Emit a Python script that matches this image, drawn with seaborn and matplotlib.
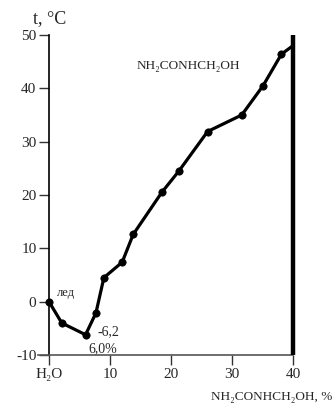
import matplotlib
matplotlib.use("Agg")
import matplotlib.pyplot as plt
import seaborn as sns
import pandas as pd

# Freezing / solubility curve of the H2O – NH2CONHCH2OH system
composition = [0, 2.1, 6.0, 7.7, 9.0, 12.0, 13.8, 18.5, 21.3, 26.0, 31.6, 35.1, 38.1]
temperature = [0, -4.0, -6.2, -2.1, 4.5, 7.4, 12.6, 20.5, 24.5, 31.9, 35.0, 40.5, 46.4]
# the liquidus runs on to the pure-component line
curve_end = (40, 48)

x_ticks = [0, 10, 20, 30, 40]
x_tick_labels = ["H\u2082O", "10", "20", "30", "40"]
y_ticks = [50, 40, 30, 20, 10, 0, -10]

sns.set_theme(style="white")
serif = ["Liberation Serif", "DejaVu Serif"]
plt.rcParams["font.family"] = serif
plt.rcParams["axes.unicode_minus"] = False

points = pd.DataFrame({"c": composition, "t": temperature})
curve = pd.DataFrame({"c": composition + [curve_end[0]],
                      "t": temperature + [curve_end[1]]})

fig = plt.figure(figsize=(3.33, 4.03), dpi=100)
ax = fig.add_axes([0.1141, 0.1191, 0.7658, 0.7941])

sns.lineplot(data=curve, x="c", y="t", sort=False, color="black",
             linewidth=2.3, ax=ax, clip_on=False)
sns.scatterplot(data=points, x="c", y="t", color="black", s=28,
                edgecolor="black", linewidth=0.5, ax=ax, zorder=3, clip_on=False)

# pure NH2CONHCH2OH side
ax.plot([40, 40], [-10, 50], color="black", linewidth=3.2, clip_on=False,
        solid_capstyle="butt", zorder=4)

ax.set_xlim(-1.8, 40)
ax.set_ylim(-10, 50)

for side in ("top", "right"):
    ax.spines[side].set_visible(False)
ax.spines["left"].set_position(("data", 0))
ax.spines["left"].set_color("black")
ax.spines["left"].set_linewidth(1.2)
ax.spines["bottom"].set_color("#555555")
ax.spines["bottom"].set_linewidth(1.2)

ax.set_xticks(x_ticks)
ax.set_xticklabels(x_tick_labels)
ax.set_yticks(y_ticks)
ax.set_yticklabels([str(v) for v in y_ticks])
ax.tick_params(axis="both", which="major", direction="out", length=7,
               width=1.0, color="#333333", labelsize=11, pad=2,
               left=True, bottom=True)
ax.set_xlabel("")
ax.set_ylabel("")
for lbl in ax.get_xticklabels() + ax.get_yticklabels():
    lbl.set_family(serif)

ax.text(0.15, 53, "t, \u00b0C", fontsize=13, ha="center", va="center",
        family=serif)
ax.text(14.4, 44.2, "NH\u2082CONHCH\u2082OH", fontsize=9.5, ha="left",
        va="center", family=serif)
ax.text(1.3, 1.6, "лед", fontsize=9, ha="left", va="center", family=serif)
ax.text(7.9, -5.7, "-6,2", fontsize=10, ha="left", va="center", family=serif)
ax.text(6.4, -8.9, "6,0%", fontsize=10, ha="left", va="center", family=serif)
ax.text(46.4, -17.9, "NH\u2082CONHCH\u2082OH, %", fontsize=9.5, ha="right",
        va="center", family=serif)

fig.savefig("out.png", dpi=100)
